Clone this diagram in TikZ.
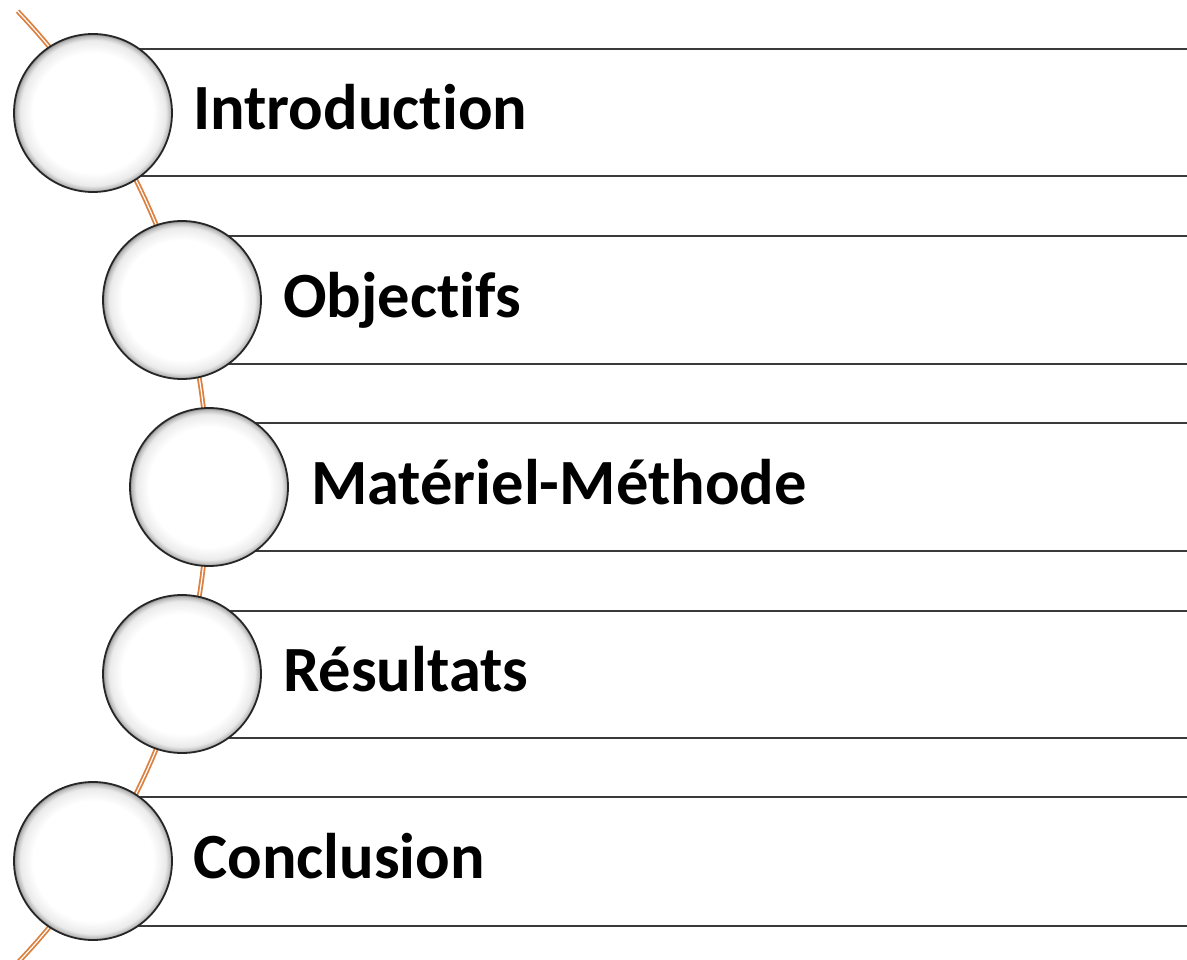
\documentclass[tikz,border=0pt]{standalone}
\usepackage{fontspec}
\setmainfont{Carlito}[Ligatures=NoCommon]
\usepackage{tikz}

\definecolor{stringorange}{HTML}{DD7F3E}
\definecolor{bandline}{HTML}{3A3A3A}
\pgfdeclareradialshading{bubble}{\pgfpoint{0bp}{0bp}}{color(0bp)=(white); color(19bp)=(white); color(23bp)=(black!8); color(24.3bp)=(black!25); color(25bp)=(black!45)}

\tikzset{
  bubble/.style={circle, minimum size=158pt, inner sep=0pt, shading=bubble, draw=black!85, line width=1.8pt},
  bandline/.style={draw=bandline, line width=2pt},
  string/.style={draw=stringorange, double=white, double distance=1.2pt, line width=1.8pt},
  label/.style={anchor=base west, font=\fontsize{64.5}{72}\selectfont\bfseries, inner sep=0pt}
}

\begin{document}
\begin{tikzpicture}[x=1pt,y=-1pt]
        \useasboundingbox (0,0) rectangle (1187,960);
        % band lines
        \draw[bandline] (93,49) -- (1187,49);
        \draw[bandline] (93,176) -- (1187,176);
        \draw[bandline] (182,236) -- (1187,236);
        \draw[bandline] (182,364) -- (1187,364);
        \draw[bandline] (209,423) -- (1187,423);
        \draw[bandline] (209,551) -- (1187,551);
        \draw[bandline] (182,611) -- (1187,611);
        \draw[bandline] (182,738) -- (1187,738);
        \draw[bandline] (93,797) -- (1187,797);
        \draw[bandline] (93,926) -- (1187,926);
        % the string behind the bubbles
        \draw[string] plot[domain=43.6:-44.5, samples=80] ({-482+690*cos(\x)}, {487-690*sin(\x)});
        % bubbles
        \node[bubble] (c1) at (93,113) {};
        \node[bubble] (c2) at (182,300) {};
        \node[bubble] (c3) at (209,487) {};
        \node[bubble] (c4) at (182,674) {};
        \node[bubble] (c5) at (93,861) {};
        % titles
        \node[label] (intro) at (193,130) {Introduction};
        \node[label] (obj) at (283,317) {Objectifs};
        \node[label] (mat) at (311,504) {Matériel-Méthode};
        \node[label] (res) at (283,691) {Résultats};
        \node[label] (concl) at (193,878) {Conclusion};
\end{tikzpicture}
\end{document}
